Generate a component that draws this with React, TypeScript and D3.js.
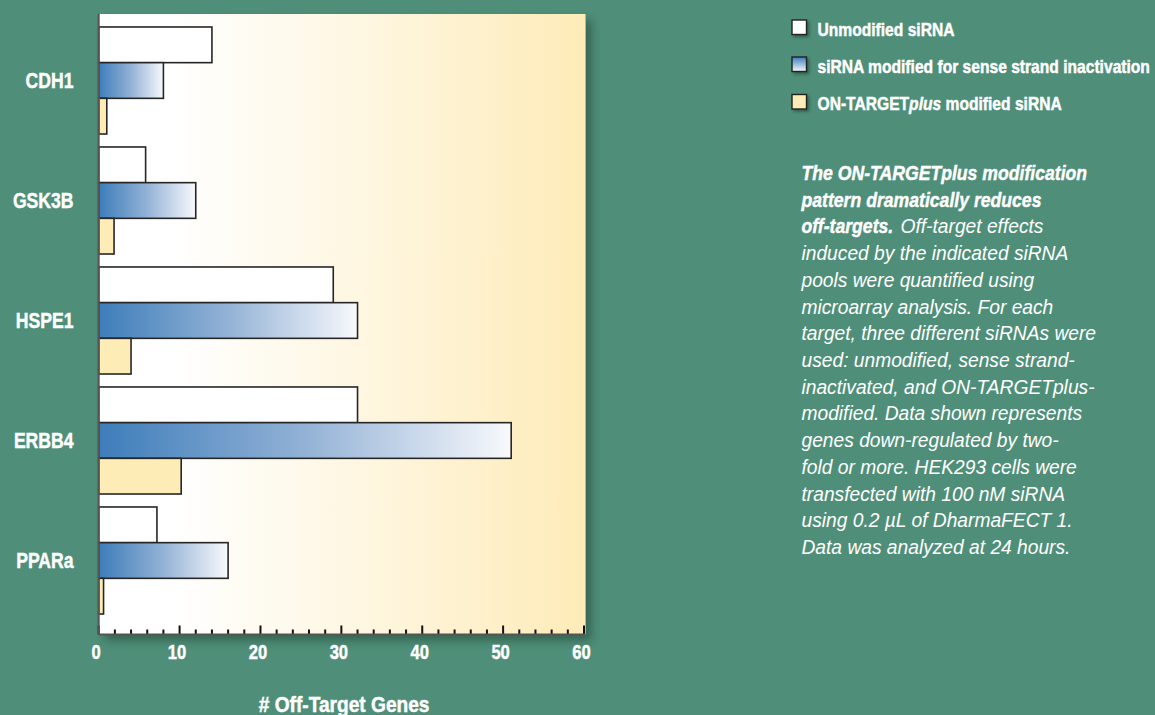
import React from "react";
import * as d3 from "d3";

const categories = ["CDH1", "GSK3B", "HSPE1", "ERBB4", "PPARa"];
const unmodified = [14, 5.8, 29, 32, 7.2];
const senseInactivated = [8, 12, 32, 51, 16];
const onTargetPlus = [1, 1.9, 4, 10.2, 0.6];
const seriesKeys = ["unmod", "sense", "otp"];
const xTicks = [0, 10, 20, 30, 40, 50, 60];
const xMinorTicks = d3.range(0, 61, 2);
const xTitle = "# Off-Target Genes";
const captionBold = ["The ON-TARGETplus modification", "pattern dramatically reduces", "off-targets."];
const captionRestOfLine3 = "Off-target effects";
const captionLines = [
  "induced by the indicated siRNA",
  "pools were quantified using",
  "microarray analysis. For each",
  "target, three different siRNAs were",
  "used: unmodified, sense strand-",
  "inactivated, and ON-TARGETplus-",
  "modified. Data shown represents",
  "genes down-regulated by two-",
  "fold or more. HEK293 cells were",
  "transfected with 100 nM siRNA",
  "using 0.2 µL of DharmaFECT 1.",
  "Data was analyzed at 24 hours.",
];

const FONT = "'Liberation Sans', Arial, sans-serif";
const BG = "#4f8f79";
const SX_BOLD = 0.84;
const SX_REG = 0.915;

function CText(props: any) {
  const { x, y, sx = SX_BOLD, anchor = "start", heavy = false, children, ...rest } = props;
  return (
    <text transform={`translate(${x},${y}) scale(${sx},1)`} textAnchor={anchor} fill="#fff"
      stroke={heavy ? "#fff" : "none"} strokeWidth={heavy ? 0.45 : 0} {...rest}>
      {children}
    </text>
  );
}

export default function App() {
  const W = 1155, H = 715;
  const plotLeft = 98.7, plotRight = 585.5, plotTop = 14, plotBottom = 634.5;
  const x = d3.scaleLinear().domain([0, 60]).range([plotLeft, 584]);
  const y = d3.scaleBand<string>().domain(categories).range([20.5, 620.5]).paddingInner(0.108).paddingOuter(0.054);
  const inner = d3.scaleBand<string>().domain(seriesKeys).range([0, y.bandwidth()]);
  const values: Record<string, number[]> = { unmod: unmodified, sense: senseInactivated, otp: onTargetPlus };
  const fills: Record<string, string> = { unmod: "#ffffff", sense: "url(#blueGrad)", otp: "#feecb6" };
  const capX = 801.5, capY0 = 180, capDy = 26.72, capFs = 21;

  return (
    <svg width={W} height={H} style={{ position: "absolute", left: 0, top: 0, display: "block" }} fontFamily={FONT}>
      <defs>
        <linearGradient id="plotGrad" x1="0" x2="1" y1="0" y2="0">
          <stop offset="0" stopColor="#ffffff" />
          <stop offset="0.15" stopColor="#ffffff" />
          <stop offset="0.55" stopColor="#fef6e0" />
          <stop offset="1" stopColor="#feebb8" />
        </linearGradient>
        <linearGradient id="blueGrad" x1="0" x2="1" y1="0" y2="0">
          <stop offset="0" stopColor="#3d7dba" />
          <stop offset="0.5" stopColor="#93b2d6" />
          <stop offset="1" stopColor="#f8f9fc" />
        </linearGradient>
        <linearGradient id="blueGradV" x1="0" x2="0" y1="0" y2="1">
          <stop offset="0" stopColor="#3d7dba" />
          <stop offset="1" stopColor="#f8f9fc" />
        </linearGradient>
        <filter id="shadow" x="-10%" y="-10%" width="130%" height="130%">
          <feDropShadow dx="6" dy="6" stdDeviation="5" floodColor="#1d3d31" floodOpacity="0.55" />
        </filter>
        <filter id="smallShadow" x="-30%" y="-30%" width="170%" height="170%">
          <feDropShadow dx="2" dy="2" stdDeviation="1.5" floodColor="#1d3d31" floodOpacity="0.6" />
        </filter>
      </defs>
      <rect x={0} y={0} width={W} height={H} fill={BG} />
      <rect x={plotLeft} y={plotTop} width={plotRight - plotLeft} height={plotBottom - plotTop} fill="url(#plotGrad)" filter="url(#shadow)" />

      {categories.map((c, i) => (
        <g key={c} transform={`translate(0,${y(c)})`}>
          {seriesKeys.map((k) => (
            <rect key={k} x={x(0)} y={inner(k)} width={x(values[k][i]) - x(0)} height={inner.bandwidth()}
              fill={fills[k]} stroke="#262626" strokeWidth={1.6} />
          ))}
          <CText x={73.5} y={y.bandwidth() / 2 + 7.8} anchor="end" sx={0.8} heavy fontWeight="bold" fontSize={22}>{c}</CText>
        </g>
      ))}

      {xMinorTicks.map((t) => (
        <line key={t} x1={x(t)} x2={x(t)} y1={plotBottom} y2={plotBottom - (t % 10 === 0 ? 9 : 5)} stroke="#111" strokeWidth={2} />
      ))}
      <line x1={plotLeft} x2={plotRight} y1={plotBottom} y2={plotBottom} stroke="#555" strokeWidth={2} />
      <line x1={plotLeft} x2={plotLeft} y1={plotTop} y2={plotBottom} stroke="#555" strokeWidth={2} />
      {xTicks.map((t) => (
        <CText key={t} x={x(t) - 2.5} y={659} anchor="middle" sx={0.79} heavy fontWeight="bold" fontSize={21}>{t}</CText>
      ))}
      <CText x={(plotLeft + plotRight) / 2 + 2} y={712} anchor="middle" sx={0.87} heavy fontWeight="bold" fontSize={22}>{xTitle}</CText>

      {/* legend */}
      <g>
        {[
          { fill: "#ffffff", y: 20 },
          { fill: "url(#blueGradV)", y: 57 },
          { fill: "#feecb6", y: 94.5 },
        ].map((d, i) => (
          <rect key={i} x={792} y={d.y} width={14.5} height={14.5} fill={d.fill} stroke="#222" strokeWidth={1.4} filter="url(#smallShadow)" />
        ))}
        <CText x={817.5} y={35.5} heavy fontWeight="bold" fontSize={18.6}>Unmodified siRNA</CText>
        <CText x={817.5} y={72.8} heavy fontWeight="bold" fontSize={18.6}>siRNA modified for sense strand inactivation</CText>
        <CText x={817.5} y={109.5} heavy fontWeight="bold" fontSize={18.6}>
          ON-TARGET<tspan fontStyle="italic">plus</tspan> modified siRNA
        </CText>
      </g>

      {/* caption */}
      {captionBold.map((l, i) => (
        <CText key={"b" + i} x={capX} y={capY0 + i * capDy} heavy fontWeight="bold" fontStyle="italic" fontSize={capFs}>{l}</CText>
      ))}
      <CText x={900.5} y={capY0 + 2 * capDy} sx={SX_REG} fontStyle="italic" fontSize={capFs}>{captionRestOfLine3}</CText>
      {captionLines.map((l, i) => (
        <CText key={"r" + i} x={capX} y={capY0 + (i + 3) * capDy} sx={SX_REG} fontStyle="italic" fontSize={capFs}>{l}</CText>
      ))}
    </svg>
  );
}
